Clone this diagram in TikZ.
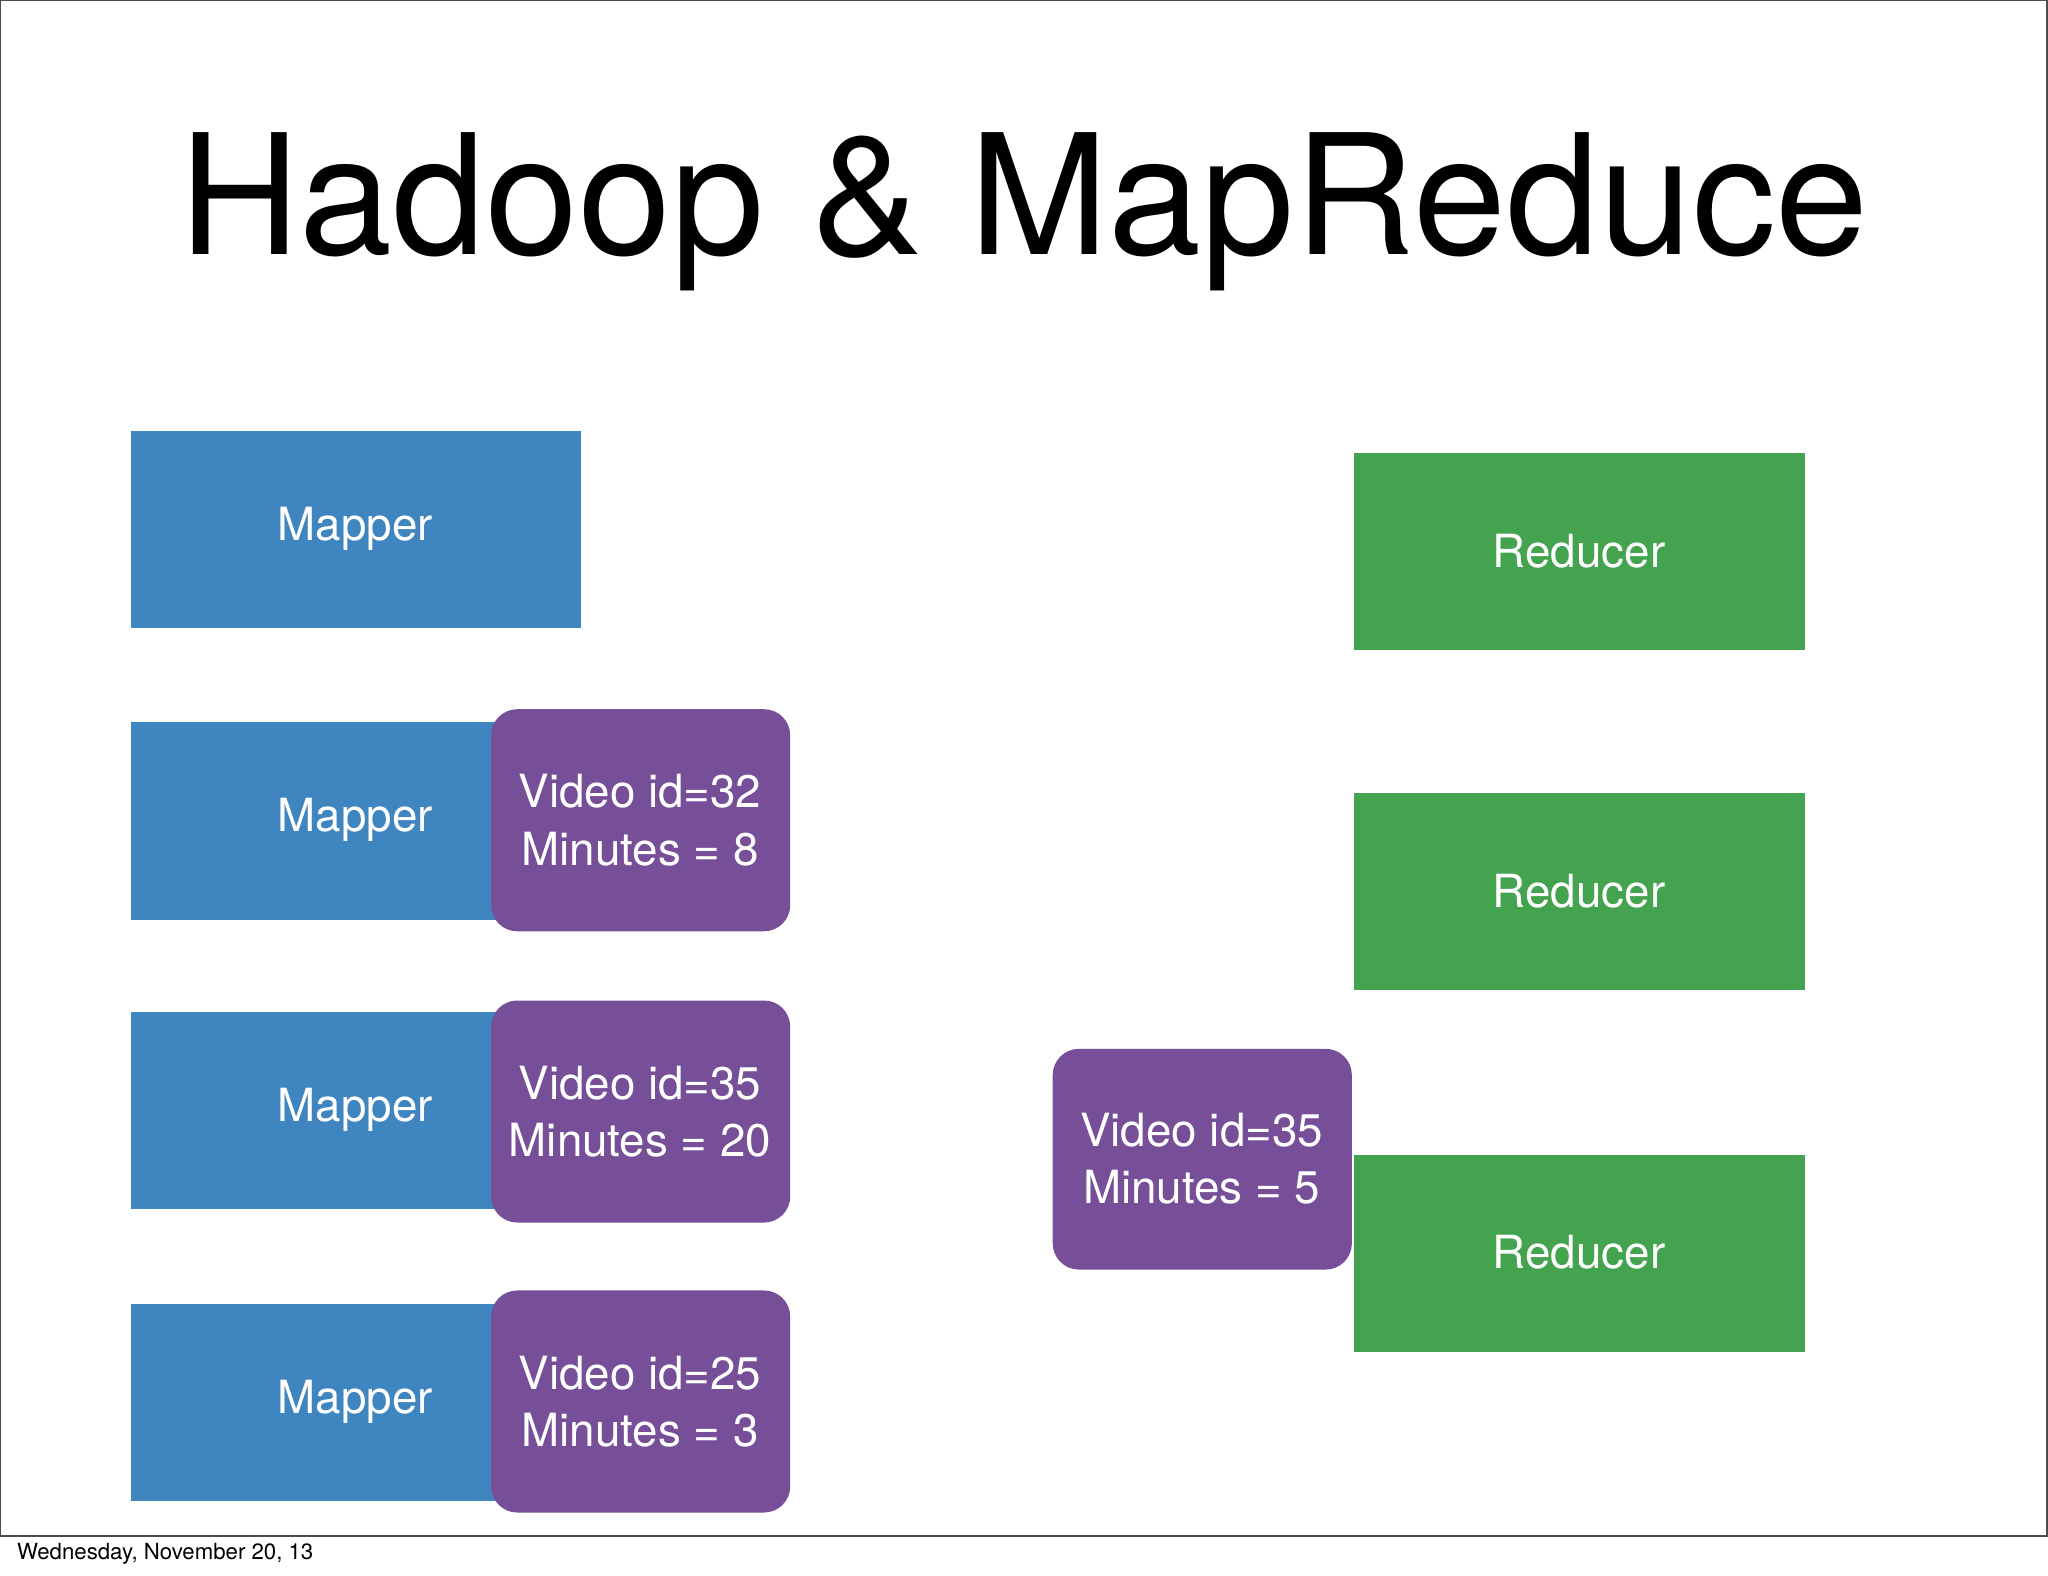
\documentclass[tikz,border=0pt]{standalone}
\usepackage{fontspec}
\setmainfont{TeX Gyre Heros}
\definecolor{mblue}{HTML}{3F85BF}
\definecolor{rgreen}{HTML}{44A34E}
\definecolor{kpurp}{HTML}{774F99}
\begin{document}
\begin{tikzpicture}[x=0.5pt,y=-0.5pt,
  box/.style={fill=#1,draw=none,text=white,font=\fontsize{17.5}{21}\selectfont},
  kv/.style={fill=kpurp,draw=none,rounded corners=10pt,text=white,align=center,font=\fontsize{17.5}{22}\selectfont}]
\useasboundingbox (0,0) rectangle (1568,1206);
\fill[white] (0,0) rectangle (1568,1206);
\draw[line width=0.6pt,gray!60!black] (0.5,0.5) rectangle (1567,1176);
\node (title) at (784,162) {\fontsize{64}{70}\selectfont Hadoop \& MapReduce};
\node[anchor=west] (foot) at (6,1190) {\fontsize{8.5}{10}\selectfont Wednesday, November 20, 13};
\foreach \n/\y in {1/330,2/553,3/775,4/998}{
  \fill[box=mblue] (100,\y) rectangle (445,\y+151);
  \node[text=white,font=\fontsize{17.5}{21}\selectfont] (m\n) at (272,\y+75) {Mapper};
}
\foreach \n/\y in {1/347,2/607,3/884}{
  \fill[box=rgreen] (1037,\y) rectangle (1382,\y+151);
  \node[text=white,font=\fontsize{17.5}{21}\selectfont] (r\n) at (1209,\y+75) {Reducer};
}
\foreach \n/\y/\id/\mn in {1/543/32/8,2/766/35/20,3/988/25/3}{
  \fill[kpurp,rounded corners=10pt] (376,\y) rectangle (605,\y+170);
  \node[kv,fill=none] (k\n) at (490,\y+85) {Video id=\id\\Minutes = \mn};
}
\fill[kpurp,rounded corners=10pt] (806,803) rectangle (1035,972);
\node[kv,fill=none] (k4) at (920,887) {Video id=35\\Minutes = 5};
\end{tikzpicture}
\end{document}
